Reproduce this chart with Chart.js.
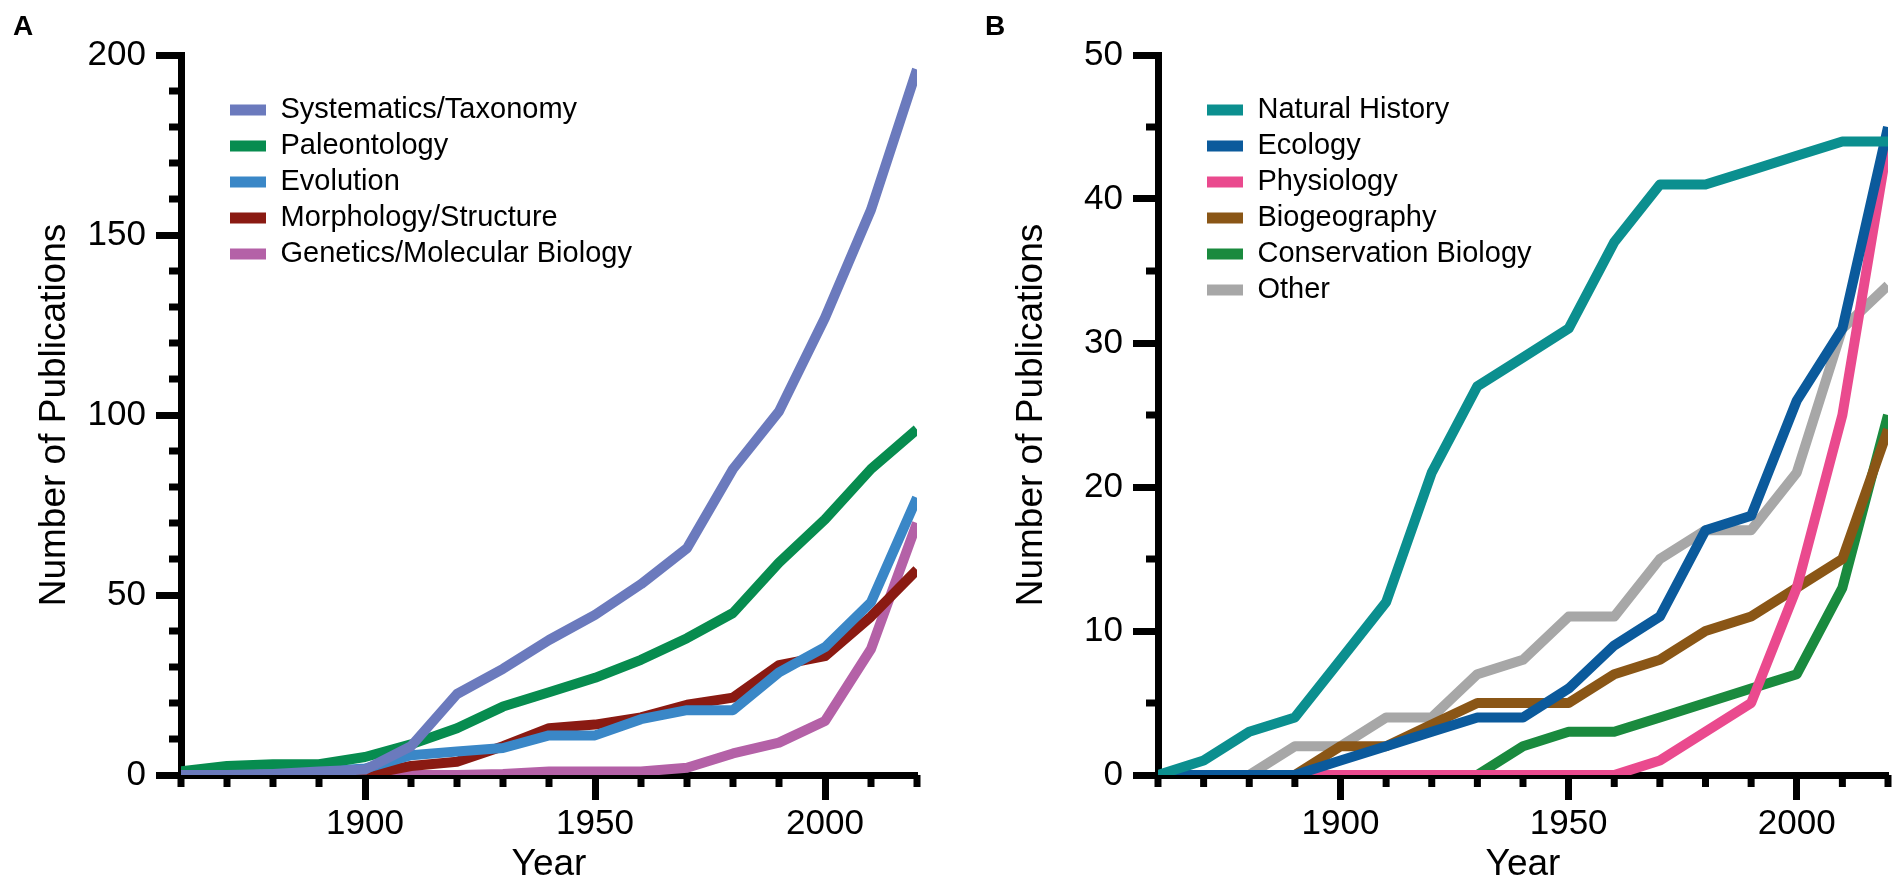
<!DOCTYPE html>
<html>
<head>
<meta charset="utf-8">
<title>Publications by field</title>
<script src="https://cdn.jsdelivr.net/npm/chart.js@4.4.1/dist/chart.umd.min.js"></script>
<style>
html, body { margin: 0; padding: 0; background: #fff; overflow: hidden; }
.panel { position: absolute; top: 0; width: 952px; height: 887px; }
#wrapA { left: 0; }
#wrapB { left: 952px; }
</style>
</head>
<body>
<div class="panel" id="wrapA"><canvas id="chartA"></canvas></div>
<div class="panel" id="wrapB"><canvas id="chartB"></canvas></div>
<script>
// decades on the x axis
const years = [1860, 1870, 1880, 1890, 1900, 1910, 1920, 1930, 1940, 1950, 1960, 1970, 1980, 1990, 2000, 2010, 2020];

// panel A
const labelsA = ['Systematics/Taxonomy', 'Paleontology', 'Evolution', 'Morphology/Structure', 'Genetics/Molecular Biology'];
const systematics = [0, 0, 0.3, 1, 1.5, 8, 22.5, 29.5, 37.5, 44.5, 53, 63, 85, 101, 127, 157, 196];
const paleontology = [1, 2.5, 3, 3, 5, 8.5, 13, 19, 23, 27, 32, 38, 45, 59, 71, 85, 96];
const evolution = [0, 0, 0.3, 1, 1.8, 5.5, 6.5, 7.5, 11, 11, 15.5, 18, 18, 28.5, 35.5, 48, 77];
const morphology = [0, 0, 0, 0, 0, 2.5, 3.7, 8, 13, 14, 16, 19.5, 21.5, 30.5, 33, 44, 57];
const genetics = [0, 0, 0, 0, 0, 0, 0, 0.3, 1, 1, 1, 2, 6, 9, 15, 35, 70];
const colorsA = ['#6b7abd', '#078c4f', '#3a87c7', '#8a1a12', '#b461a7'];

// panel B
const labelsB = ['Natural History', 'Ecology', 'Physiology', 'Biogeography', 'Conservation Biology', 'Other'];
const naturalHistory = [0, 1, 3, 4, 8, 12, 21, 27, 29, 31, 37, 41, 41, 42, 43, 44, 44];
const ecology = [0, 0, 0, 0, 1, 2, 3, 4, 4, 6, 9, 11, 17, 18, 26, 31, 45];
const physiology = [0, 0, 0, 0, 0, 0, 0, 0, 0, 0, 0, 1, 3, 5, 13, 25, 44];
const biogeography = [0, 0, 0, 0, 2, 2, 3.5, 5, 5, 5, 7, 8, 10, 11, 13, 15, 24];
const conservation = [0, 0, 0, 0, 0, 0, 0, 0, 2, 3, 3, 4, 5, 6, 7, 13, 25];
const other = [0, 0, 0, 2, 2, 4, 4, 7, 8, 11, 11, 15, 17, 17, 21, 31, 34];
const colorsB = ['#0b8f8f', '#0b5a9c', '#ea4a8e', '#8a5616', '#1a8a3e', '#a7a7a7'];

Chart.defaults.font.family = "'Liberation Sans', Arial, Helvetica, sans-serif";
Chart.defaults.color = '#000';

// short ticks between the labelled ones
const minorTicks = {
  id: 'minorTicks',
  afterDraw(chart, args, opts) {
    const ctx = chart.ctx;
    const xs = chart.scales.x, ys = chart.scales.y;
    ctx.save();
    ctx.strokeStyle = '#000';
    ctx.lineWidth = 7;
    xs.ticks.forEach(t => {
      if (t.value % opts.xMajor === 0) return;
      const px = xs.getPixelForValue(t.value);
      ctx.beginPath();
      ctx.moveTo(px, xs.top);
      ctx.lineTo(px, xs.top + opts.len);
      ctx.stroke();
    });
    ys.ticks.forEach(t => {
      if (t.value % opts.yMajor === 0) return;
      const py = ys.getPixelForValue(t.value);
      ctx.beginPath();
      ctx.moveTo(ys.right, py);
      ctx.lineTo(ys.right - opts.len, py);
      ctx.stroke();
    });
    ctx.restore();
  }
};

// move the legend inside the plot
const legendShift = {
  id: 'legendShift',
  afterLayout(chart, args, opts) {
    const lg = chart.legend, ca = chart.chartArea;
    lg.left = ca.left + opts.dx;
    lg.top = ca.top + opts.dy;
    lg.right = lg.left + lg.width;
    lg.bottom = ca.bottom;
  }
};

function makeChart(id, letter, names, series, colors, yMax, yStep, yMajor, padL, padR, yWidth, yTitlePad) {
  const datasets = series.map((vals, i) => ({
    label: names[i],
    data: years.map((yr, j) => ({ x: yr, y: vals[j] })),
    borderColor: colors[i],
    backgroundColor: colors[i],
    borderWidth: 10,
    borderJoinStyle: 'round',
    pointRadius: 0,
    tension: 0,
    fill: false
  }));

  return new Chart(document.getElementById(id), {
    type: 'line',
    data: { datasets },
    plugins: [minorTicks, legendShift],
    options: {
      responsive: true,
      maintainAspectRatio: false,
      animation: false,
      events: [],
      layout: { padding: { left: padL, right: padR, top: 0, bottom: 0 } },
      plugins: {
        title: {
          display: true,
          text: letter,
          align: 'start',
          color: '#000',
          font: { size: 28, weight: 'bold' },
          padding: { top: 10, bottom: 11.4 }
        },
        legend: {
          position: 'chartArea',
          align: 'start',
          labels: {
            boxWidth: 36,
            boxHeight: 11,
            padding: 7,
            color: '#000',
            font: { size: 29 },
            generateLabels(chart) {
              const items = Chart.defaults.plugins.legend.labels.generateLabels(chart);
              items.forEach(it => { it.lineWidth = 0; });
              return items;
            }
          }
        },
        tooltip: { enabled: false },
        minorTicks: { xMajor: 50, yMajor: yMajor, len: 12 },
        legendShift: { dx: 42, dy: 33.5 }
      },
      scales: {
        x: {
          type: 'linear',
          min: 1860,
          max: 2020,
          afterFit(scale) { scale.height = 112; },
          border: { display: true, color: '#000', width: 7 },
          grid: {
            drawOnChartArea: false,
            drawTicks: true,
            tickLength: 25,
            tickWidth: 7,
            tickColor: c => (c.tick && c.tick.value % 50 === 0) ? '#000' : 'rgba(0,0,0,0)'
          },
          ticks: {
            stepSize: 10,
            autoSkip: false,
            maxRotation: 0,
            padding: 3,
            color: '#000',
            font: { size: 35 },
            callback: v => (v % 50 === 0 ? String(v) : '')
          },
          title: {
            display: true,
            text: 'Year',
            color: '#000',
            font: { size: 37 },
            padding: { top: 0, bottom: 0 }
          }
        },
        y: {
          min: 0,
          max: yMax,
          afterFit(scale) { scale.width = yWidth; },
          border: { display: true, color: '#000', width: 7 },
          grid: {
            drawOnChartArea: false,
            drawTicks: true,
            tickLength: 25,
            tickWidth: 7,
            tickColor: c => (c.tick && c.tick.value % yMajor === 0) ? '#000' : 'rgba(0,0,0,0)'
          },
          ticks: {
            stepSize: yStep,
            autoSkip: false,
            padding: 10,
            color: '#000',
            font: { size: 35 },
            callback: v => (v % yMajor === 0 ? String(v) : '')
          },
          title: {
            display: true,
            text: 'Number of Publications',
            color: '#000',
            font: { size: 37 },
            padding: { top: yTitlePad, bottom: 0 }
          }
        }
      }
    }
  });
}

makeChart('chartA', 'A', labelsA,
  [systematics, paleontology, evolution, morphology, genetics], colorsA,
  200, 10, 50, 13, 35, 168, 20);

makeChart('chartB', 'B', labelsB,
  [naturalHistory, ecology, physiology, biogeography, conservation, other], colorsB,
  50, 5, 10, 33, 16, 173, 25);
</script>
</body>
</html>
